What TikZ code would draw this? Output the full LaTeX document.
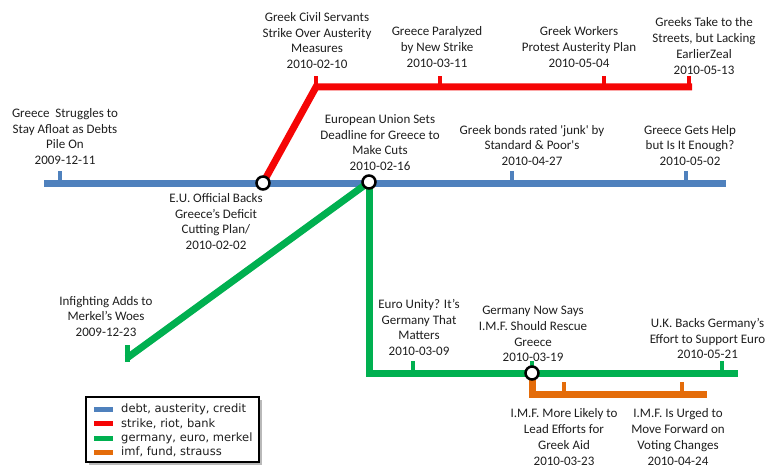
\documentclass[tikz,border=0pt]{standalone}
\usepackage{fontspec}
\usetikzlibrary{calc}
\setmainfont{Carlito}[Ligatures=TeXOff]
\newfontfamily\legfont{DejaVu Sans}
\definecolor{cblue}{RGB}{79,129,189}
\definecolor{cred}{RGB}{245,5,5}
\definecolor{cgreen}{RGB}{0,176,80}
\definecolor{corange}{RGB}{228,108,10}
\definecolor{ctext}{RGB}{30,30,30}
\begin{document}
\begin{tikzpicture}[x=1pt,y=-1pt,
  route/.style={line width=7pt, line join=miter},
  tickmark/.style={line width=4pt},
  stopmark/.style={circle, draw=black, fill=white, line width=2.5pt, minimum size=13pt, inner sep=0pt},
  lbl/.style={align=center, font=\fontsize{13}{15.7}\selectfont, inner sep=0pt, text=ctext},
  legtxt/.style={anchor=west, inner sep=0pt, text=ctext, font=\legfont\fontsize{11.5}{13}\selectfont},
  swatch/.style={minimum width=19pt, minimum height=5pt, inner sep=0pt, anchor=west},
]
\useasboundingbox (0,0) rectangle (767,465);

% junction coordinates
\coordinate (j1) at (263,183);
\coordinate (j2) at (369,182);
\coordinate (j3) at (532,373);

% blue route
\coordinate (b0) at (44,183);
\coordinate (b1) at (726,183);
\draw[route, cblue] (b0) -- (b1);
\coordinate (bt1) at (60,183);
\coordinate (bt2) at (512,183);
\coordinate (bt3) at (686,183);
\foreach \t in {bt1,bt2,bt3} \draw[tickmark, cblue] (\t) -- ++(0,-12);

% red route
\coordinate (r0) at (316,87);
\coordinate (r1) at (692,87);
\draw[route, cred] (j1) -- (r0) -- (r1);
\coordinate (rt2) at (440,87);
\coordinate (rt3) at (604,87);
\coordinate (rt4) at (689,87);
\foreach \t in {r0,rt2,rt3,rt4} \draw[tickmark, cred] (\t) -- ++(0,-11);

% green route
\coordinate (g0) at (127,358);
\coordinate (g1) at (369,373);
\coordinate (g2) at (738,373);
\draw[route, cgreen] (j2) -- (g0);
\draw[line width=5pt, cgreen] ($(g0)+(0,4)$) -- ++(0,-17);
\draw[route, cgreen] (j2) -- (g1) -- (g2);
\coordinate (gt1) at (413,373);
\coordinate (gt3) at (722,373);
\foreach \t in {gt1,j3,gt3} \draw[tickmark, cgreen] (\t) -- ++(0,-12);

% orange route
\coordinate (o0) at (532,394);
\coordinate (o1) at (707,394);
\draw[route, corange] (j3) -- (o0) -- (o1);
\coordinate (ot1) at (564,394);
\coordinate (ot2) at (682,394);
\foreach \t in {ot1,ot2} \draw[tickmark, corange] (\t) -- ++(0,-12);

% interchange stops
\node[stopmark] (c1) at (j1) {};
\node[stopmark] (c2) at (j2) {};
\node[stopmark] (c3) at (j3) {};

% labels
\node[lbl] (l1) at (65,136.5) {Greece\ \ Struggles to\\Stay Afloat as Debts\\Pile On\\2009-12-11};
\node[lbl] (l2) at (317,40.5) {Greek Civil Servants\\Strike Over Austerity\\Measures\\2010-02-10};
\node[lbl] (l3) at (437,47) {Greece Paralyzed\\by New Strike\\2010-03-11};
\node[lbl] (l4) at (579,47) {Greek Workers\\Protest Austerity Plan\\2010-05-04};
\node[lbl] (l5) at (704,46) {Greeks Take to the\\Streets, but Lacking\\EarlierZeal\\2010-05-13};
\node[lbl] (l6) at (380,142.5) {European Union Sets\\Deadline for Greece\ to\\Make Cuts\\2010-02-16};
\node[lbl] (l7) at (532,145.5) {Greek bonds rated 'junk' by\\Standard \& Poor's\\2010-04-27};
\node[lbl] (l8) at (690,145.5) {Greece Gets Help\\but Is It Enough?\\2010-05-02};
\node[lbl] (l9) at (216,221.5) {E.U.\ Official Backs\\Greece’s Deficit\\Cutting Plan/\\2010-02-02};
\node[lbl] (l10) at (106,316.5) {Infighting Adds to\\Merkel’s Woes\\2009-12-23};
\node[lbl] (l11) at (419,327.5) {Euro Unity? It’s\\Germany That\\Matters\\2010-03-09};
\node[lbl] (l12) at (533,334) {Germany Now Says\\I.M.F. Should Rescue\\Greece\\2010-03-19};
\node[lbl] (l13) at (707.5,338.5) {U.K. Backs Germany’s\\Effort to Support Euro\\2010-05-21};
\node[lbl] (l14) at (564,437) {I.M.F. More Likely to\\Lead Efforts for\\Greek Aid\\2010-03-23};
\node[lbl] (l15) at (678,437) {I.M.F. Is Urged to\\Move Forward on\\Voting Changes\\2010-04-24};

% legend
\fill[gray!55] (89,400) rectangle (262,465);
\node[draw=black, line width=1.3pt, fill=white, minimum width=173pt, minimum height=65pt, inner sep=0pt] (leg) at (172.5,429.5) {};
\node[swatch, fill=cblue] (s1) at (94,409) {};
\node[swatch, fill=cred] (s2) at (94,423.5) {};
\node[swatch, fill=cgreen] (s3) at (94,438) {};
\node[swatch, fill=corange] (s4) at (94,452) {};
\node[legtxt] (e1) at (121,409) {debt, austerity, credit};
\node[legtxt] (e2) at (121,423.5) {strike, riot, bank};
\node[legtxt] (e3) at (121,438) {germany, euro, merkel};
\node[legtxt] (e4) at (121,452) {imf, fund, strauss};
\end{tikzpicture}
\end{document}
